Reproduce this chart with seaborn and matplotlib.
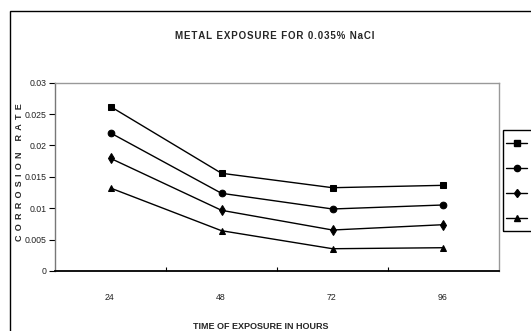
import matplotlib
matplotlib.use("Agg")
import matplotlib.pyplot as plt
import matplotlib.patches as mpatches
from matplotlib.ticker import FuncFormatter, FixedLocator
from matplotlib import font_manager
import seaborn as sns
import pandas as pd

hours = ["24", "48", "72", "96"]
series_names = ["Series1", "Series2", "Series3", "Series4"]
s1 = [0.0262, 0.01557, 0.01327, 0.01365]
s2 = [0.0220, 0.01238, 0.00988, 0.01052]
s3 = [0.01795, 0.00967, 0.00653, 0.00738]
s4 = [0.01322, 0.00642, 0.00355, 0.00371]
y_ticks = [0, 0.005, 0.01, 0.015, 0.02, 0.025, 0.03]

rows = []
for name, vals in zip(series_names, [s1, s2, s3, s4]):
    for h, v in zip(hours, vals):
        rows.append({"hours": h, "rate": v, "series": name})
df = pd.DataFrame(rows)

sns.set_theme(style="white")
names = {f.name for f in font_manager.fontManager.ttflist}
narrow = "Liberation Sans Narrow" if "Liberation Sans Narrow" in names else "Liberation Sans"
plt.rcParams["font.family"] = ["Liberation Sans", "DejaVu Sans"]

def spaced(s, sep="\u2009"):
    return sep.join(s)

W, H = 531, 331
fig = plt.figure(figsize=(5.31, 3.31), dpi=100)
L, R, T, B = 55, 499, 82.7, 271
ax = fig.add_axes([L/W, 1-B/H, (R-L)/W, (B-T)/H])

sns.lineplot(data=df, x="hours", y="rate", hue="series", style="series",
             markers=["s", "o", "d", "^"], dashes=False,
             palette=["black"]*4, markersize=4.8, linewidth=1,
             markeredgecolor="black", ax=ax, legend=False, sort=False)

ax.set_xlim(-0.5, 3.5)
ax.set_ylim(0, 0.03)
ax.yaxis.set_major_locator(FixedLocator(y_ticks))
ax.yaxis.set_major_formatter(FuncFormatter(lambda v, p: "%g" % v))
ax.xaxis.set_major_locator(FixedLocator([0.5, 1.5, 2.5]))
ax.xaxis.set_major_formatter(FuncFormatter(lambda v, p: ""))
for i, h in enumerate(hours):
    ax.annotate(h, xy=(i, 0), xycoords=("data", "axes fraction"),
                xytext=(-1, -27), textcoords="offset pixels",
                ha="center", va="center", fontsize=6.3, family=narrow, color="#222222")

ax.tick_params(axis="x", direction="in", length=3, width=0.8, color="black", bottom=True)
ax.tick_params(axis="y", direction="out", length=4, width=0.8, color="black",
               labelsize=6.3, pad=2, left=True, labelcolor="#222222")
for lab in ax.get_yticklabels():
    lab.set_family(narrow)
for sp in ["top", "right"]:
    ax.spines[sp].set_color("#999999")
    ax.spines[sp].set_linewidth(1)
ax.spines["left"].set_color("#777777")
ax.spines["left"].set_linewidth(1)
ax.spines["bottom"].set_color("black")
ax.spines["bottom"].set_linewidth(1.3)
ax.set_xlabel("")
ax.set_ylabel("")

fig.text(275/W, 1-35.6/H, spaced("METAL EXPOSURE FOR 0.035% NaCl", "\u200a"),
         ha="center", va="center", fontsize=7, fontweight="bold")
fig.text(261/W, 1-326.5/H, "TIME OF EXPOSURE IN HOURS",
         ha="center", va="center", fontsize=6.5, fontweight="bold")
fig.text(19.6/W, 1-172.4/H, spaced("CORROSION RATE", "\u2009\u2009\u200a"), rotation=90,
         ha="center", va="center", fontsize=6.5, fontweight="bold")

frame = mpatches.Rectangle((10/W, -0.2), 2, 1-11/H+0.2, transform=fig.transFigure,
                           fill=False, edgecolor="black", linewidth=1)
fig.patches.append(frame)
legframe = mpatches.Rectangle((502.7/W, 1-230.7/H), 0.5, (230.7-130)/H,
                              transform=fig.transFigure, fill=False,
                              edgecolor="black", linewidth=1)
fig.patches.append(legframe)

handles = [plt.Line2D([], [], color="black", marker=m, markersize=4.5, linewidth=1)
           for m in ["s", "o", "d", "^"]]
leg = fig.legend(handles, [""]*4, loc="upper left",
                 bbox_to_anchor=(506/W, 1-139.8/H), frameon=False, fontsize=6,
                 handlelength=2.57, labelspacing=2.06, borderpad=0,
                 handletextpad=0.5, borderaxespad=0)

fig.savefig("out.png", dpi=100)
